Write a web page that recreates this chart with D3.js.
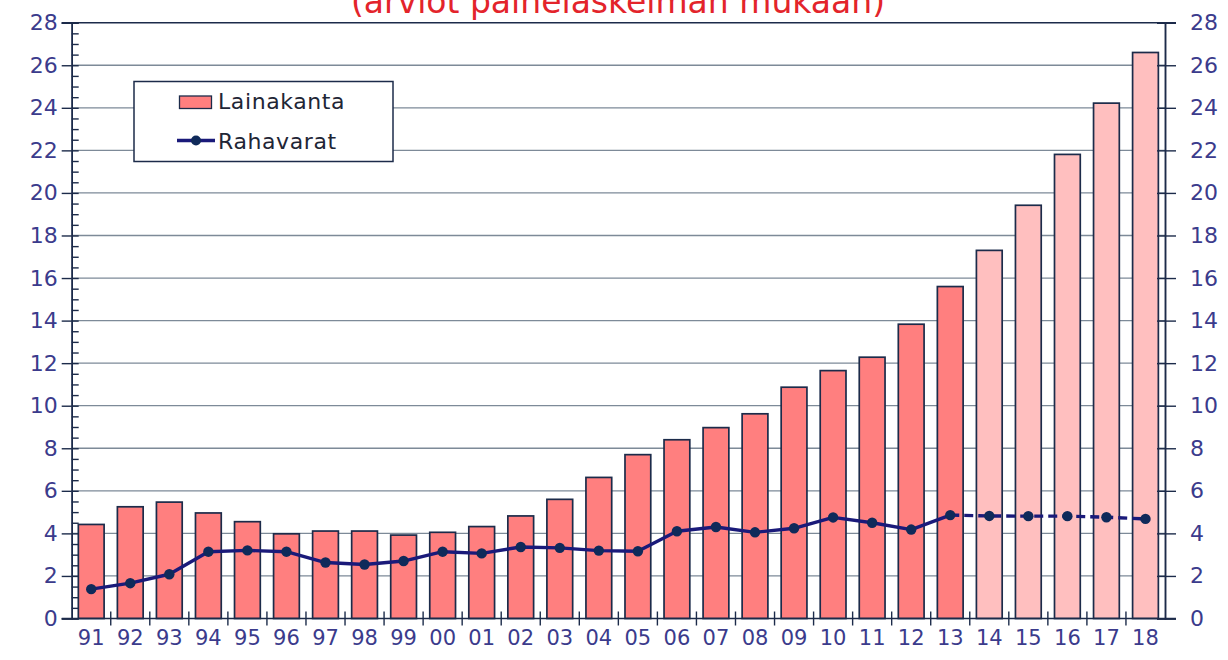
<!DOCTYPE html>
<html>
<head>
<meta charset="utf-8">
<script src="https://cdn.jsdelivr.net/npm/d3@7"></script>
<style>
  html, body { margin: 0; padding: 0; background: #ffffff; }
  svg { display: block; font-family: "DejaVu Sans", Verdana, sans-serif; }
</style>
</head>
<body>
<svg id="chart" width="1228" height="660"></svg>
<script>
// ---- data ----
const categories = ["91","92","93","94","95","96","97","98","99","00","01","02","03","04","05","06","07","08","09","10","11","12","13","14","15","16","17","18"];
const lainakanta = [4.42,5.25,5.47,4.96,4.55,3.98,4.11,4.11,3.92,4.05,4.32,4.82,5.6,6.63,7.7,8.4,8.97,9.62,10.87,11.65,12.28,13.83,15.6,17.3,19.42,21.81,24.22,26.6];
const rahavarat = [1.38,1.66,2.08,3.14,3.2,3.14,2.63,2.54,2.7,3.14,3.06,3.36,3.32,3.19,3.16,4.1,4.3,4.05,4.24,4.75,4.5,4.18,4.86,4.82,4.81,4.81,4.76,4.68];
const forecastStart = "14";      // bars from this year on are estimates
const lineSplit = "13";          // line dashed after this year
const yTicks = [0,2,4,6,8,10,12,14,16,18,20,22,24,26,28];
const seriesNames = ["Lainakanta", "Rahavarat"];
const titleText = "(arviot painelaskelman mukaan)";

// ---- layout ----
const L = 71.7, R = 1165, T = 22.7, B = 618.5;
const svg = d3.select("#chart");
const axisColor = "#1c2b4a";
const textColor = "#3b3b8c";
const gridColor = "#7d8a98";
const fontFam = "DejaVu Sans, Verdana, sans-serif";

const x = d3.scaleBand().domain(categories).range([L, R]).paddingInner(0.34).paddingOuter(0.17);
const y = d3.scaleLinear().domain([0, 28]).range([B, T]);
const step = x.step();

// title (partly clipped at top, as in the reference)
svg.append("text")
  .attr("x", 618).attr("y", 13)
  .attr("text-anchor", "middle")
  .attr("fill", "#e3242b")
  .attr("font-size", 33)
  .text(titleText);

// gridlines
svg.append("g").selectAll("line")
  .data(yTicks.filter(v => v > 0 && v < 28))
  .join("line")
  .attr("x1", L).attr("x2", R)
  .attr("y1", d => y(d)).attr("y2", d => y(d))
  .attr("stroke", gridColor).attr("stroke-width", 1.3);

// bars
const fIdx = categories.indexOf(forecastStart);
svg.append("g").selectAll("rect")
  .data(categories.map((c, i) => ({c, v: lainakanta[i], f: i >= fIdx})))
  .join("rect")
  .attr("x", d => x(d.c))
  .attr("width", x.bandwidth())
  .attr("y", d => y(d.v))
  .attr("height", d => y(0) - y(d.v))
  .attr("fill", d => d.f ? "#ffbfbf" : "#ff7f7f")
  .attr("stroke", axisColor).attr("stroke-width", 1.7);

// line
const pts = categories.map((c, i) => ({c, v: rahavarat[i], i}));
const sIdx = categories.indexOf(lineSplit);
const line = d3.line().x(d => x(d.c) + x.bandwidth() / 2).y(d => y(d.v));
svg.append("path").datum(pts.filter(d => d.i <= sIdx))
  .attr("d", line).attr("fill", "none")
  .attr("stroke", "#1a1a7a").attr("stroke-width", 3.4).attr("stroke-linejoin", "round");
svg.append("path").datum(pts.filter(d => d.i >= sIdx))
  .attr("d", line).attr("fill", "none")
  .attr("stroke", "#1a1a7a").attr("stroke-width", 3.4).attr("stroke-dasharray", "9,5");
svg.append("g").selectAll("circle").data(pts).join("circle")
  .attr("cx", d => x(d.c) + x.bandwidth() / 2)
  .attr("cy", d => y(d.v))
  .attr("r", 5.2)
  .attr("fill", "#0f2a5a");

// frame: top line
svg.append("line").attr("x1", L - 10).attr("x2", R + 11).attr("y1", T).attr("y2", T)
  .attr("stroke", axisColor).attr("stroke-width", 1.5);

// left axis
const gL = svg.append("g").attr("transform", `translate(${L},0)`);
gL.call(d3.axisLeft(y).tickValues(yTicks).tickSize(10).tickPadding(4).tickFormat(d3.format("d")));
gL.append("g").call(d3.axisRight(y).tickValues(d3.range(0, 28.01, 0.5)).tickSize(7).tickFormat(""));
gL.selectAll(".domain").attr("stroke", axisColor).attr("stroke-width", 1.5);
gL.selectAll(".tick line").attr("stroke", axisColor).attr("stroke-width", 1.4);
gL.selectAll(".tick text").attr("fill", textColor).attr("font-size", 22).attr("font-family", fontFam);

// right axis
const gR = svg.append("g").attr("transform", `translate(${R},0)`);
gR.call(d3.axisRight(y).tickValues(yTicks).tickSize(11).tickPadding(14).tickFormat(d3.format("d")));
gR.append("g").call(d3.axisLeft(y).tickValues(yTicks).tickSize(8).tickFormat(""));
gR.selectAll(".domain").attr("stroke", axisColor).attr("stroke-width", 1.5);
gR.selectAll(".tick line").attr("stroke", axisColor).attr("stroke-width", 1.4);
gR.selectAll(".tick text").attr("fill", textColor).attr("font-size", 22).attr("font-family", fontFam);

// bottom axis
const gB = svg.append("g").attr("transform", `translate(0,${B})`);
gB.call(d3.axisBottom(x).tickSize(0).tickPadding(12));
gB.select(".domain").remove();
gB.selectAll(".tick text").attr("fill", textColor).attr("font-size", 21).attr("font-family", fontFam);
gB.append("line").attr("x1", L - 10).attr("x2", R + 11).attr("y1", 0).attr("y2", 0)
  .attr("stroke", axisColor).attr("stroke-width", 1.5);
gB.append("g").selectAll("line")
  .data(d3.range(1, categories.length))
  .join("line")
  .attr("x1", i => L + i * step).attr("x2", i => L + i * step)
  .attr("y1", -7).attr("y2", 7)
  .attr("stroke", axisColor).attr("stroke-width", 1.4);

// legend
const lg = svg.append("g");
lg.append("rect").attr("x", 134).attr("y", 81.5).attr("width", 259).attr("height", 80)
  .attr("fill", "#ffffff").attr("stroke", axisColor).attr("stroke-width", 1.5);
lg.append("rect").attr("x", 179.5).attr("y", 96).attr("width", 32).attr("height", 12.5)
  .attr("fill", "#ff7f7f").attr("stroke", axisColor).attr("stroke-width", 1.3);
lg.append("line").attr("x1", 177).attr("x2", 215).attr("y1", 140.5).attr("y2", 140.5)
  .attr("stroke", "#1a1a7a").attr("stroke-width", 3.4);
lg.append("circle").attr("cx", 196).attr("cy", 140.5).attr("r", 5).attr("fill", "#0f2a5a");
lg.selectAll("text.lab").data(seriesNames).join("text")
  .attr("class", "lab")
  .attr("x", 218)
  .attr("y", (d, i) => i === 0 ? 109 : 149)
  .attr("font-size", 22)
  .attr("letter-spacing", 0.6)
  .attr("fill", "#1f2636")
  .text(d => d);
</script>
</body>
</html>
